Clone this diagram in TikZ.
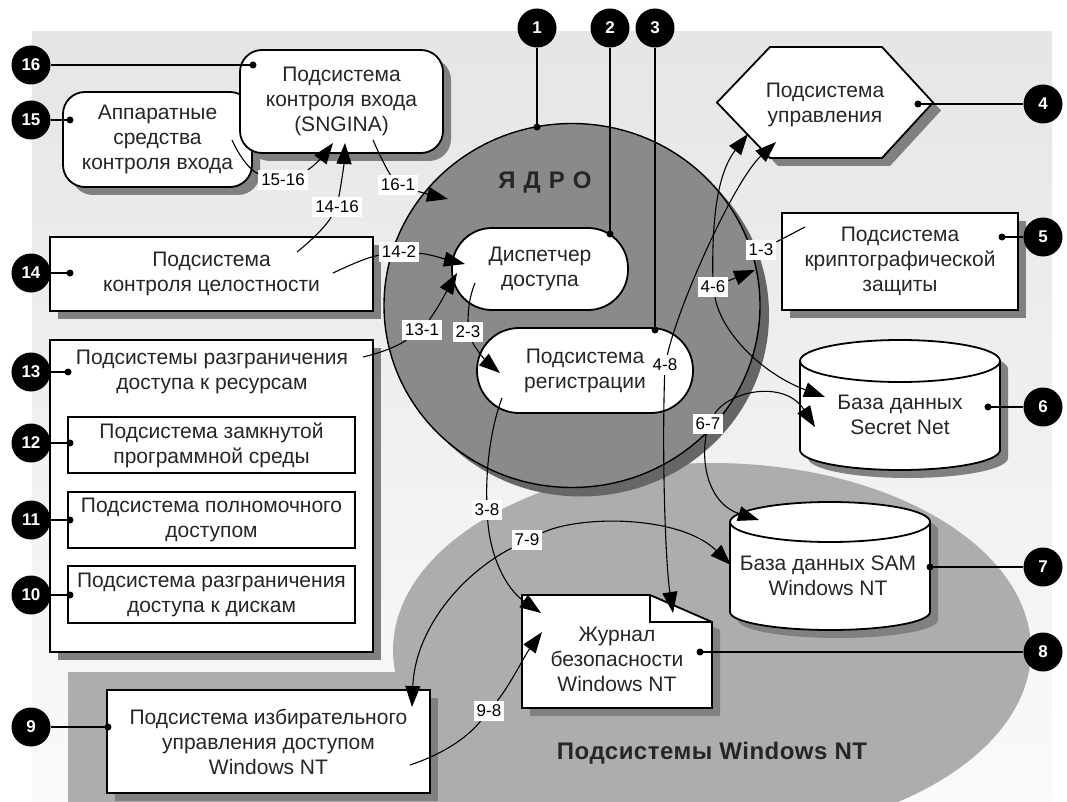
\documentclass[tikz,border=0pt]{standalone}
\usepackage{fontspec}
\setmainfont{Liberation Sans}
\usetikzlibrary{arrows.meta}
\usetikzlibrary{shapes.geometric}
\usetikzlibrary{shadows}

\newcommand\boxfont{\fontsize{21}{25}\selectfont}
\newcommand\lblfont{\fontsize{17}{17}\selectfont}

\begin{document}
\begin{tikzpicture}[x=1pt, y=-1pt,
  box/.style={draw, line width=1.8pt, fill=white, align=center, inner sep=0pt, font=\boxfont, text=black!85},
  shadowed/.style={drop shadow={shadow xshift=8pt, shadow yshift=-8pt, fill=black!50, opacity=1}},
  txt/.style={align=center, inner sep=0pt, font=\boxfont, text=black!85},
  lbl/.style={fill=white, inner xsep=3pt, inner ysep=4pt, font=\lblfont},
  marker/.style={circle, fill=black, minimum size=39pt, inner sep=0pt, text=white, font=\fontsize{17}{17}\selectfont\bfseries},
  dot/.style={circle, fill=black, minimum size=7pt, inner sep=0pt},
  pin/.style={line width=1.5pt},
  con/.style={line width=1.1pt},
  arr/.style={con, -{Triangle[length=21pt, width=15pt]}}]
\useasboundingbox (0,0) rectangle (1067,802);
\shade[top color=gray!20, bottom color=gray!4] (32,32) rectangle (1052,802);
\fill[black!32] (68,672) rectangle (712,810);
\fill[black!32] (712,650) ellipse[x radius=319, y radius=187];
\node[ellipse, draw, line width=1.4pt, fill=black!46, minimum width=376pt, minimum height=364pt, inner sep=0pt,
  drop shadow={shadow xshift=9pt, shadow yshift=-9pt, fill=black!60, opacity=1}] (core) at (572,305.5) {};
\node[font=\fontsize{24}{24}\selectfont\bfseries, text=black!85] (yadro) at (545,183) {Я\hspace{8pt}Д\hspace{8pt}Р\hspace{8pt}О};

\node[box, shadowed, rounded corners=22pt, minimum width=189pt, minimum height=95pt] (appar) at (157.5,139.5) {Аппаратные\\средства\\контроля входа};
\node[box, shadowed, rounded corners=22pt, minimum width=203pt, minimum height=103pt] (sngina) at (341.5,101.5) {Подсистема\\контроля входа\\(SNGINA)};
\node[box, shadowed, minimum width=323pt, minimum height=74pt] (integ) at (211.5,274) {Подсистема\\контроля целостности};
\node[box, shadowed, minimum width=323pt, minimum height=312pt] (resrc) at (211.5,496) {};
\node[txt] (restitle) at (212,372) {Подсистемы разграничения\\доступа к ресурсам};
\node[box, line width=1.4pt, minimum width=287pt, minimum height=56pt] (zps) at (211.5,445) {Подсистема замкнутой\\программной среды};
\node[box, line width=1.4pt, minimum width=287pt, minimum height=56pt] (polnom) at (211.5,520) {Подсистема полномочного\\доступом};
\node[box, line width=1.4pt, minimum width=287pt, minimum height=57pt] (disks) at (211.5,594.5) {Подсистема разграничения\\доступа к дискам};
\node[box, shadowed, minimum width=323pt, minimum height=103pt] (discr) at (268.5,741.5) {Подсистема избирательного\\управления доступом\\Windows NT};
\node[box, shadowed, minimum width=236pt, minimum height=97pt] (crypt) at (900,261.5) {Подсистема\\криптографической\\защиты};
\node[box, rounded corners=40pt, minimum width=176pt, minimum height=82pt] (disp) at (540,269) {Диспетчер\\доступа};
\node[box, rounded corners=42pt, minimum width=216pt, minimum height=85pt] (reg) at (585,370.5) {Подсистема\\регистрации};

\draw[line width=1.8pt, fill=white, shadowed] (717,102.5) -- (770,47) -- (882,47) -- (933,102.5) -- (882,158) -- (770,158) -- cycle;
\node[txt] (mgmt) at (825,105) {Подсистема\\управления};

\draw[line width=1.8pt, fill=white, shadowed] (800,361) -- (800,450) arc[start angle=180, end angle=0, x radius=100, y radius=20]
  -- (1000,361) arc[start angle=0, end angle=-180, x radius=100, y radius=21] -- cycle;
\draw[line width=1.8pt] (800,361) arc[start angle=180, end angle=0, x radius=100, y radius=21];
\node[txt] (sndb) at (900,415) {База данных\\Secret Net};

\draw[line width=1.8pt, fill=white, shadowed] (730,522) -- (730,612) arc[start angle=180, end angle=0, x radius=100, y radius=18]
  -- (930,522) arc[start angle=0, end angle=-180, x radius=100, y radius=20] -- cycle;
\draw[line width=1.8pt] (730,522) arc[start angle=180, end angle=0, x radius=100, y radius=20];
\node[txt] (samdb) at (828,575.5) {База данных SAM\\Windows NT};

\draw[line width=1.8pt, fill=white, shadowed] (522,595) -- (650,595) -- (712,622) -- (712,708) -- (522,708) -- cycle;
\draw[line width=1.2pt] (650,595) -- (650,622) -- (712,622);
\node[txt] (journal) at (617,659) {Журнал\\безопасности\\Windows NT};

\node[font=\fontsize{24}{24}\selectfont\bfseries\addfontfeature{LetterSpace=2}, text=black!85] (ntsub) at (712,753) {Подсистемы Windows NT};

\foreach \n/\mx/\my/\px/\py in {16/31/65/253/65, 15/31/120/70/120, 14/31/273/70/273, 13/31/372/68/372,
  12/31/443/70/443, 11/31/520/70/520, 10/31/595/70/595, 9/31/727/108/727,
  4/1043/104/918/104, 5/1043/237/1002/237, 6/1043/407/988/407, 7/1043/567/930/567, 8/1043/652/700/652,
  1/537/28/537/127, 2/610/28/610/234, 3/655/28/655/330} {
  \node[marker] (m\n) at (\mx,\my) {\n};
  \draw[pin] (m\n) -- (\px,\py) node[dot] {};
}

\node[lbl] (L1516) at (283,180) {15-16};
\node[lbl] (L1416) at (337,207) {14-16};
\node[lbl] (L161) at (398,185) {16-1};
\node[lbl] (L142) at (399,252) {14-2};
\node[lbl] (L131) at (422,330) {13-1};
\node[lbl] (L23) at (468,332) {2-3};
\node[lbl] (L48) at (665,365) {4-8};
\node[lbl] (L46) at (713,287) {4-6};
\node[lbl] (L13) at (761,250) {1-3};
\node[lbl] (L67) at (708,424) {6-7};
\node[lbl] (L38) at (487,510) {3-8};
\node[lbl] (L79) at (527,540) {7-9};
\node[lbl] (L98) at (489,711) {9-8};

\coordinate (s1516) at (232,140);
\coordinate (t1516) at (333,143);
\coordinate (s1416) at (297,252);
\coordinate (t1416) at (345,143);
\coordinate (s161) at (373,140);
\coordinate (t161) at (448,199);
\coordinate (s142) at (333,273);
\coordinate (t142) at (465,264);
\coordinate (s131) at (363,357);
\coordinate (t131) at (457,273);
\coordinate (s23) at (475,283);
\coordinate (t23) at (500,373);
\coordinate (s38) at (502,398);
\coordinate (t38) at (541,613);
\coordinate (tA) at (748,134);
\coordinate (tB) at (776,142);
\coordinate (t48) at (673,613);
\coordinate (t46) at (825,397);
\coordinate (t13) at (755,270);
\coordinate (s13) at (805,227);
\coordinate (t67a) at (815,427);
\coordinate (t67b) at (759,520);
\coordinate (t79a) at (731,565);
\coordinate (t79b) at (412,707);
\coordinate (s98) at (410,765);
\coordinate (t98) at (542,632);

\draw[con] (s1516) .. controls (240,158) and (252,172) .. (L1516);
\draw[arr] (L1516) .. controls (312,168) and (324,155) .. (t1516);
\draw[con] (s1416) .. controls (312,240) and (326,226) .. (L1416);
\draw[arr] (L1416) .. controls (341,185) and (344,165) .. (t1416);
\draw[con] (s161) .. controls (380,156) and (387,170) .. (L161);
\draw[arr] (L161) .. controls (420,192) and (435,196) .. (t161);
\draw[con] (s142) .. controls (350,265) and (368,257) .. (L142);
\draw[arr] (L142) .. controls (430,254) and (448,260) .. (t142);
\draw[con] (s131) .. controls (380,353) and (396,347) .. (L131);
\draw[arr] (L131) .. controls (440,305) and (450,285) .. (t131);
\draw[con] (s23) .. controls (470,295) and (468,308) .. (L23);
\draw[arr] (L23) .. controls (476,350) and (488,363) .. (t23);
\draw[con] (s38) .. controls (490,430) and (486,470) .. (L38);
\draw[arr] (L38) .. controls (490,555) and (505,588) .. (t38);
\draw[arr] (L48) .. controls (680,300) and (735,180) .. (tB);
\draw[arr] (L48) .. controls (662,450) and (665,560) .. (t48);
\draw[arr] (L46) .. controls (712,225) and (716,175) .. (tA);
\draw[arr] (L46) .. controls (722,335) and (765,375) .. (t46);
\draw[arr] (L46) -- (t13);
\draw[con] (s13) -- (L13);
\draw[arr] (L67) .. controls (730,390) and (785,380) .. (t67a);
\draw[arr] (L67) .. controls (700,470) and (712,505) .. (t67b);
\draw[arr] (L79) .. controls (580,515) and (680,515) .. (t79a);
\draw[arr] (L79) .. controls (460,575) and (415,630) .. (t79b);
\draw[con] (s98) .. controls (440,755) and (465,740) .. (L98);
\draw[arr] (L98) .. controls (510,685) and (525,655) .. (t98);
\end{tikzpicture}
\end{document}
